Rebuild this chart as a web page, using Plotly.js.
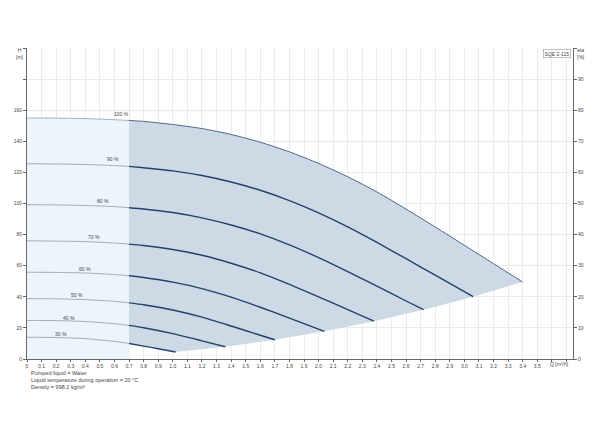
<!DOCTYPE html>
<html>
<head>
<meta charset="utf-8">
<script src="https://cdn.plot.ly/plotly-3.0.1.min.js"></script>
<style>
  html, body { margin: 0; padding: 0; background: #fff; }
  #chart { width: 600px; height: 441px; }
</style>
</head>
<body>
<div id="chart"></div>
<script>
// pump curves, Q [m3/h] vs H [m], one per speed
const q100 = [0, 0.2, 0.4, 0.6, 0.7, 0.8, 1.0, 1.2, 1.4, 1.6, 1.8, 2.0, 2.2, 2.4, 2.6, 2.8, 3.0, 3.2, 3.4];
const h100 = [155.0, 154.9, 154.6, 153.9, 153.4, 152.8, 150.8, 148.2, 144.4, 139.4, 133.2, 125.8, 117.2, 107.4, 96.4, 84.9, 73.1, 61.3, 49.5];
const q90 = [0, 0.2, 0.4, 0.6, 0.7, 0.8, 1.0, 1.2, 1.4, 1.6, 1.8, 2.0, 2.2, 2.4, 2.6, 2.8, 3.06];
const h90 = [125.6, 125.4, 125.1, 124.4, 123.9, 123.0, 121.0, 118.0, 113.8, 108.5, 101.9, 94.0, 85.0, 75.0, 64.5, 53.9, 40.1];
const q80 = [0, 0.2, 0.4, 0.6, 0.7, 0.8, 1.0, 1.2, 1.4, 1.6, 1.8, 2.0, 2.2, 2.4, 2.6, 2.72];
const h80 = [99.2, 99.1, 98.7, 98.0, 97.3, 96.5, 94.2, 90.8, 86.2, 80.5, 73.4, 65.2, 56.2, 46.8, 37.3, 31.7];
const q70 = [0, 0.2, 0.4, 0.6, 0.7, 0.8, 1.0, 1.2, 1.4, 1.6, 1.8, 2.0, 2.2, 2.38];
const h70 = [76.0, 75.8, 75.5, 74.6, 73.9, 73.0, 70.4, 66.7, 61.6, 55.4, 48.0, 40.0, 31.7, 24.3];
const q60 = [0, 0.2, 0.4, 0.6, 0.7, 0.8, 1.0, 1.2, 1.4, 1.6, 1.8, 2.04];
const h60 = [55.8, 55.7, 55.3, 54.3, 53.5, 52.4, 49.4, 45.3, 39.8, 33.3, 26.3, 17.8];
const q50 = [0, 0.2, 0.4, 0.6, 0.7, 0.8, 1.0, 1.2, 1.4, 1.6, 1.7];
const h50 = [38.8, 38.7, 38.2, 37.1, 36.1, 34.9, 31.5, 26.9, 21.2, 15.3, 12.4];
const q40 = [0, 0.2, 0.4, 0.6, 0.7, 0.8, 1.0, 1.2, 1.36];
const h40 = [24.8, 24.7, 24.1, 22.7, 21.6, 20.1, 16.3, 11.7, 7.9];
const q30 = [0, 0.2, 0.4, 0.6, 0.7, 0.8, 0.9, 1.02];
const h30 = [14.0, 13.8, 13.1, 11.3, 10.0, 8.3, 6.6, 4.5];

const speedLabels = ['100 %', '90 %', '80 %', '70 %', '60 %', '50 %', '40 %', '30 %'];
// label anchor points (Q, H)
const labelQ = [0.65, 0.59, 0.52, 0.46, 0.40, 0.345, 0.29, 0.23];
const labelH = [157.5, 128.3, 101.5, 78.2, 57.8, 40.9, 26.5, 16.1];

const qLimit = 0.7;   // left of this the range is drawn pale

const xTickVals = [0, 0.1, 0.2, 0.3, 0.4, 0.5, 0.6, 0.7, 0.8, 0.9, 1.0, 1.1, 1.2, 1.3, 1.4, 1.5, 1.6, 1.7, 1.8, 1.9,
  2.0, 2.1, 2.2, 2.3, 2.4, 2.5, 2.6, 2.7, 2.8, 2.9, 3.0, 3.1, 3.2, 3.3, 3.4, 3.5, 3.6, 3.7];
const xTickText = ['0', '0.1', '0.2', '0.3', '0.4', '0.5', '0.6', '0.7', '0.8', '0.9', '1.0', '1.1', '1.2', '1.3', '1.4', '1.5', '1.6', '1.7', '1.8', '1.9',
  '2.0', '2.1', '2.2', '2.3', '2.4', '2.5', '2.6', '2.7', '2.8', '2.9', '3.0', '3.1', '3.2', '3.3', '3.4', '3.5', '', ''];
const hTickVals = [0, 20, 40, 60, 80, 100, 120, 140, 160, 180, 200];
const hTickText = ['0', '20', '40', '60', '80', '100', '120', '140', '160', '', ''];
const etaTickVals = [0, 10, 20, 30, 40, 50, 60, 70, 80, 90, 100];
const etaTickText = ['0', '10', '20', '30', '40', '50', '60', '70', '80', '90', ''];

const curves = [[q100, h100], [q90, h90], [q80, h80], [q70, h70], [q60, h60], [q50, h50], [q40, h40], [q30, h30]];

const FONT = 'Liberation Sans, Arial, sans-serif';
const TXT = '#444';

const data = [];

// pale area, Q < 0.7 under the 100 % curve
const lightX = [], lightY = [];
q100.forEach((q, i) => { if (q <= qLimit) { lightX.push(q); lightY.push(h100[i]); } });
lightX.push(qLimit, 0); lightY.push(0, 0);
data.push({ x: lightX, y: lightY, type: 'scatter', mode: 'lines', fill: 'toself',
  fillcolor: '#ecf4fc', line: { width: 0 }, hoverinfo: 'skip' });

// operating range: 100 % curve, end points, back along 30 % curve
const darkX = [], darkY = [];
q100.forEach((q, i) => { if (q >= qLimit) { darkX.push(q); darkY.push(h100[i]); } });
for (let c = 1; c < curves.length; c++) {
  const [q, h] = curves[c];
  darkX.push(q[q.length - 1]); darkY.push(h[h.length - 1]);
}
for (let i = q30.length - 2; i >= 0; i--) {
  if (q30[i] >= qLimit) { darkX.push(q30[i]); darkY.push(h30[i]); }
}
data.push({ x: darkX, y: darkY, type: 'scatter', mode: 'lines', fill: 'toself',
  fillcolor: '#cddae6', line: { width: 0 }, hoverinfo: 'skip' });

curves.forEach(([q, h], c) => {
  const lq = [], lh = [], dq = [], dh = [];
  q.forEach((v, i) => {
    if (v <= qLimit) { lq.push(v); lh.push(h[i]); }
    if (v >= qLimit) { dq.push(v); dh.push(h[i]); }
  });
  data.push({ x: lq, y: lh, type: 'scatter', mode: 'lines',
    line: { color: '#8d9db0', width: 0.8, shape: 'spline', smoothing: 0.6 }, hoverinfo: 'skip' });
  data.push({ x: dq, y: dh, type: 'scatter', mode: 'lines',
    line: { color: c === 0 ? '#4d6688' : '#23416b', width: c === 0 ? 1 : 1.4, shape: 'spline', smoothing: 0.6 },
    hoverinfo: 'skip' });
});

// empty trace so the eta axis is drawn
data.push({ x: [0], y: [0], yaxis: 'y2', type: 'scatter', mode: 'markers', marker: { opacity: 0 }, hoverinfo: 'skip' });

const annotations = speedLabels.map((t, i) => ({
  x: labelQ[i], y: labelH[i], xref: 'x', yref: 'y', text: t, showarrow: false,
  font: { family: FONT, size: 5, color: TXT }
}));

annotations.push(
  { xref: 'paper', yref: 'paper', x: -0.013, y: 1.01, xanchor: 'center', yanchor: 'top',
    text: 'H<br>[m]', showarrow: false, align: 'center', font: { family: FONT, size: 5, color: TXT } },
  { xref: 'paper', yref: 'paper', x: 1.004, y: 1.01, xanchor: 'left', yanchor: 'top',
    text: 'eta<br>[%]', showarrow: false, align: 'left', font: { family: FONT, size: 5, color: TXT } },
  { xref: 'paper', yref: 'paper', x: 0.997, y: 0.997, xanchor: 'right', yanchor: 'top',
    text: 'SQE 2-115', showarrow: false, bordercolor: '#999', borderwidth: 0.6, borderpad: 1,
    bgcolor: '#fff', font: { family: FONT, size: 5, color: TXT } },
  { xref: 'x', yref: 'paper', x: 3.655, y: -0.016, xanchor: 'center', yanchor: 'middle',
    text: 'Q [m³/h]', showarrow: false, font: { family: FONT, size: 5, color: TXT } },
  { xref: 'paper', yref: 'paper', x: 0.003, y: -0.03, xanchor: 'left', yanchor: 'top', align: 'left',
    text: 'Pumped liquid = Water<br>Liquid temperature during operation = 20 °C<br>Density = 998.2 kg/m³',
    showarrow: false, font: { family: FONT, size: 5.5, color: TXT } }
);

const layout = {
  width: 600, height: 441,
  margin: { l: 27, r: 27, t: 48, b: 82, pad: 0 },
  paper_bgcolor: '#fff', plot_bgcolor: '#fff',
  showlegend: false,
  font: { family: FONT, size: 5, color: TXT },
  xaxis: {
    range: [0, 3.745], tickmode: 'array', tickvals: xTickVals, ticktext: xTickText,
    showgrid: true, gridcolor: '#e6e6e6', gridwidth: 0.8, zeroline: false,
    showline: true, linecolor: '#666', linewidth: 1,
    ticks: 'outside', ticklen: 2, tickcolor: '#666', tickfont: { family: FONT, size: 5, color: TXT }
  },
  yaxis: {
    range: [0, 200], tickmode: 'array', tickvals: hTickVals, ticktext: hTickText,
    showgrid: true, gridcolor: '#e6e6e6', gridwidth: 0.8, zeroline: false,
    showline: true, linecolor: '#666', linewidth: 1,
    ticks: 'outside', ticklen: 3, tickcolor: '#666', tickfont: { family: FONT, size: 5, color: TXT }
  },
  yaxis2: {
    range: [0, 100], overlaying: 'y', side: 'right', tickmode: 'array',
    tickvals: etaTickVals, ticktext: etaTickText, showgrid: false, zeroline: false,
    showline: true, linecolor: '#666', linewidth: 1,
    ticks: 'outside', ticklen: 3, tickcolor: '#666', tickfont: { family: FONT, size: 5, color: TXT }
  },
  annotations: annotations
};

Plotly.newPlot('chart', data, layout, { staticPlot: true, displayModeBar: false });
</script>
</body>
</html>
